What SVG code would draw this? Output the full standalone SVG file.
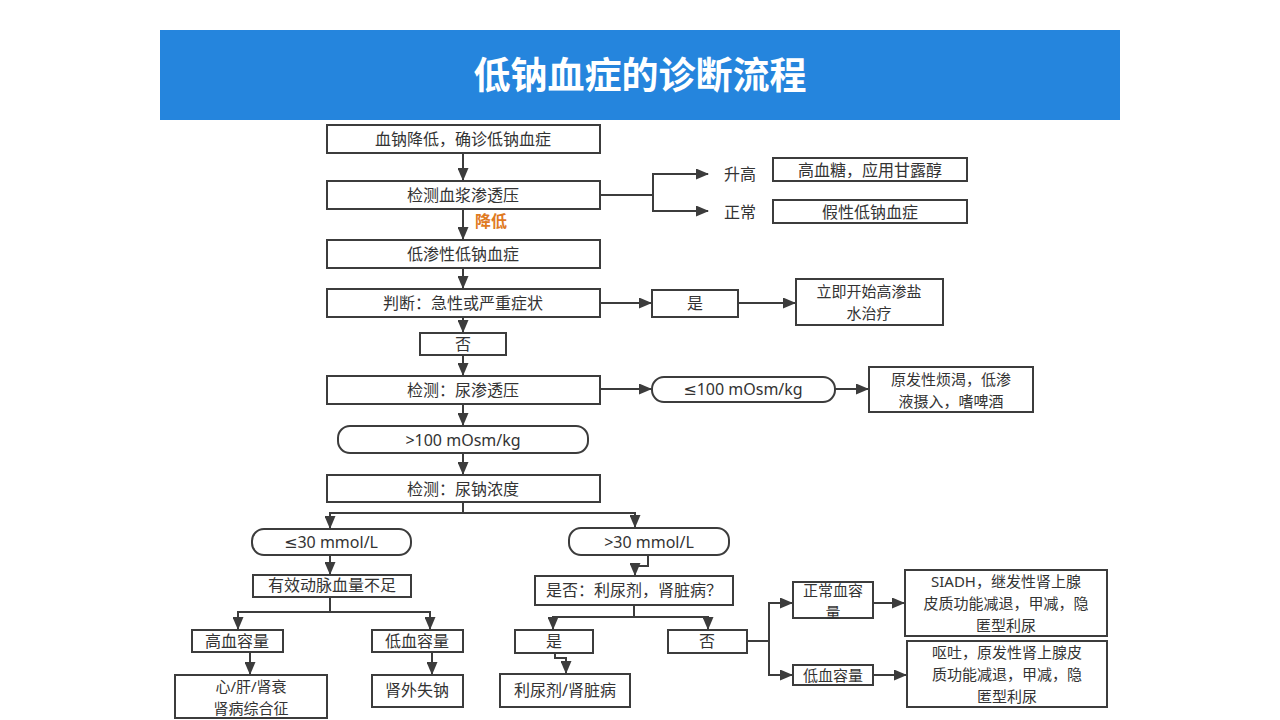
<svg xmlns="http://www.w3.org/2000/svg" width="1280" height="720" viewBox="0 0 1280 720">
<defs>
<marker id="ah" markerUnits="userSpaceOnUse" markerWidth="13" markerHeight="11" refX="12" refY="5.5" orient="auto">
<path d="M0,0 L13,5.5 L0,11 z" fill="#3c3c3c"/>
</marker>
<style>
.b{fill:#fff;stroke:#3c3c3c;stroke-width:2}
.t{font-family:"Noto Sans","Noto Sans CJK SC",sans-serif;font-size:16px;fill:#333;text-anchor:middle;dominant-baseline:central}
.m{font-size:15px}
.le{font-family:"DejaVu Sans",sans-serif}
.c{fill:none;stroke:#3c3c3c;stroke-width:2}
.a{fill:none;stroke:#3c3c3c;stroke-width:2;marker-end:url(#ah)}
</style>
</defs>
<rect width="1280" height="720" fill="#fff"/>
<g id="title">
<rect x="160" y="30" width="960" height="90" fill="#2585dd"/>
<text x="640" y="73" style="font-family:'Noto Sans CJK SC',sans-serif;font-size:37px;font-weight:bold;fill:#fff;text-anchor:middle;dominant-baseline:central">低钠血症的诊断流程</text>
</g>
<g id="connectors">
<path class="a" d="M463,153 V180"/>
<path class="a" d="M463,209 V239"/>
<path class="a" d="M463,268 V288"/>
<path class="a" d="M463,317 V332"/>
<path class="a" d="M463,355 V375"/>
<path class="a" d="M463,404 V425"/>
<path class="a" d="M463,453 V474"/>
<path class="c" d="M600,195 H653 M653,174 V211"/>
<path class="a" d="M652,174 H708"/>
<path class="a" d="M652,211 H708"/>
<path class="a" d="M600,303 H651"/>
<path class="a" d="M738,303 H795"/>
<path class="a" d="M600,389 H651"/>
<path class="a" d="M835,389 H868"/>
<path class="c" d="M463,502 V513 M329,513 H636"/>
<path class="a" d="M330,512 V528"/>
<path class="a" d="M635,512 V527"/>
<path class="a" d="M330,555 V574"/>
<path class="a" d="M648,555 V566 H635 V575"/>
<path class="c" d="M330,597 V612 M237,612 H431"/>
<path class="a" d="M238,611 V629"/>
<path class="a" d="M430,611 V629"/>
<path class="a" d="M250,652 V674"/>
<path class="a" d="M432,652 V674"/>
<path class="c" d="M634,605 V617 M552,617 H709"/>
<path class="a" d="M553,616 V629"/>
<path class="a" d="M708,616 V629"/>
<path class="a" d="M555,653 V658 H566 V673"/>
<path class="c" d="M747,641 H769 M769,602 V676"/>
<path class="a" d="M768,603 H792"/>
<path class="a" d="M768,675 H792"/>
<path class="a" d="M873,603 H904"/>
<path class="a" d="M873,675 H906"/>
</g>
<text x="491" y="220" style="font-family:'Noto Sans CJK SC',sans-serif;font-size:16px;font-weight:bold;fill:#e07a1f;text-anchor:middle;dominant-baseline:central">降低</text>
<text class="t" x="740" y="174">升高</text>
<text class="t" x="740" y="212">正常</text>
<g id="n1"><rect class="b" x="327" y="125" width="273" height="28"/><text class="t" x="463" y="139">血钠降低，确诊低钠血症</text></g>
<g id="n2"><rect class="b" x="327" y="181" width="273" height="28"/><text class="t" x="463" y="195">检测血浆渗透压</text></g>
<g id="n3"><rect class="b" x="327" y="240" width="273" height="28"/><text class="t" x="463" y="254">低渗性低钠血症</text></g>
<g id="n4"><rect class="b" x="327" y="289" width="273" height="28"/><text class="t" x="463" y="303">判断：急性或严重症状</text></g>
<g id="n5"><rect class="b" x="420" y="333" width="86" height="22"/><text class="t" x="463" y="344">否</text></g>
<g id="n6"><rect class="b" x="327" y="376" width="273" height="28"/><text class="t" x="463" y="390">检测：尿渗透压</text></g>
<g id="n7"><rect class="b" x="338" y="426" width="250" height="27" rx="12"/><text class="t" x="463" y="440">&gt;100 mOsm/kg</text></g>
<g id="n8"><rect class="b" x="327" y="475" width="273" height="27"/><text class="t" x="463" y="489">检测：尿钠浓度</text></g>
<g id="n9"><rect class="b" x="773" y="158" width="194" height="23"/><text class="t" x="870" y="170">高血糖，应用甘露醇</text></g>
<g id="n10"><rect class="b" x="773" y="200" width="194" height="23"/><text class="t" x="870" y="212">假性低钠血症</text></g>
<g id="n11"><rect class="b" x="652" y="290" width="86" height="27"/><text class="t" x="695" y="303">是</text></g>
<g id="n12"><rect class="b" x="796" y="279" width="147" height="46"/><text class="t m" x="869" y="291">立即开始高渗盐</text><text class="t m" x="869" y="313">水治疗</text></g>
<g id="n13"><rect class="b" x="652" y="377" width="183" height="25" rx="12"/><text class="t" x="743" y="389"><tspan class="le">≤</tspan>100 mOsm/kg</text></g>
<g id="n14"><rect class="b" x="869" y="367" width="164" height="45"/><text class="t m" x="951" y="378.5">原发性烦渴，低渗</text><text class="t m" x="951" y="400.5">液摄入，嗜啤酒</text></g>
<g id="n15"><rect class="b" x="252" y="529" width="159" height="26" rx="12"/><text class="t" x="331" y="542"><tspan class="le">≤</tspan>30 mmol/L</text></g>
<g id="n16"><rect class="b" x="569" y="528" width="160" height="27" rx="12"/><text class="t" x="649" y="542">&gt;30 mmol/L</text></g>
<g id="n17"><rect class="b" x="253" y="575" width="158" height="22"/><text class="t" x="332" y="585">有效动脉血量不足</text></g>
<g id="n18"><rect class="b" x="535" y="576" width="198" height="29"/><text class="t" x="634" y="590">是否：利尿剂，肾脏病？</text></g>
<g id="n19"><rect class="b" x="192" y="630" width="91" height="22"/><text class="t" x="237" y="641">高血容量</text></g>
<g id="n20"><rect class="b" x="372" y="630" width="91" height="22"/><text class="t" x="417" y="641">低血容量</text></g>
<g id="n21"><rect class="b" x="175" y="675" width="152" height="43"/><text class="t m" x="251" y="685.5">心/肝/肾衰</text><text class="t m" x="251" y="707.5">肾病综合征</text></g>
<g id="n22"><rect class="b" x="372" y="675" width="91" height="32"/><text class="t" x="417" y="690">肾外失钠</text></g>
<g id="n23"><rect class="b" x="515" y="630" width="78" height="23"/><text class="t" x="554" y="641">是</text></g>
<g id="n24"><rect class="b" x="668" y="630" width="79" height="23"/><text class="t" x="707" y="641">否</text></g>
<g id="n25"><rect class="b" x="500" y="674" width="130" height="33"/><text class="t" x="565" y="690">利尿剂/肾脏病</text></g>
<g id="n26"><rect class="b" x="793" y="582" width="80" height="36"/><text class="t m" x="833" y="590">正常血容</text><text class="t m" x="833" y="612">量</text></g>
<g id="n27"><rect class="b" x="793" y="665" width="80" height="20"/><text class="t m" x="833" y="675">低血容量</text></g>
<g id="n28"><rect class="b" x="905" y="570" width="202" height="66"/><text class="t m" x="1006" y="581">SIADH，继发性肾上腺</text><text class="t m" x="1006" y="603">皮质功能减退，甲减，隐</text><text class="t m" x="1006" y="625">匿型利尿</text></g>
<g id="n29"><rect class="b" x="907" y="641" width="200" height="66"/><text class="t m" x="1007" y="652">呕吐，原发性肾上腺皮</text><text class="t m" x="1007" y="674">质功能减退，甲减，隐</text><text class="t m" x="1007" y="696">匿型利尿</text></g>
</svg>
